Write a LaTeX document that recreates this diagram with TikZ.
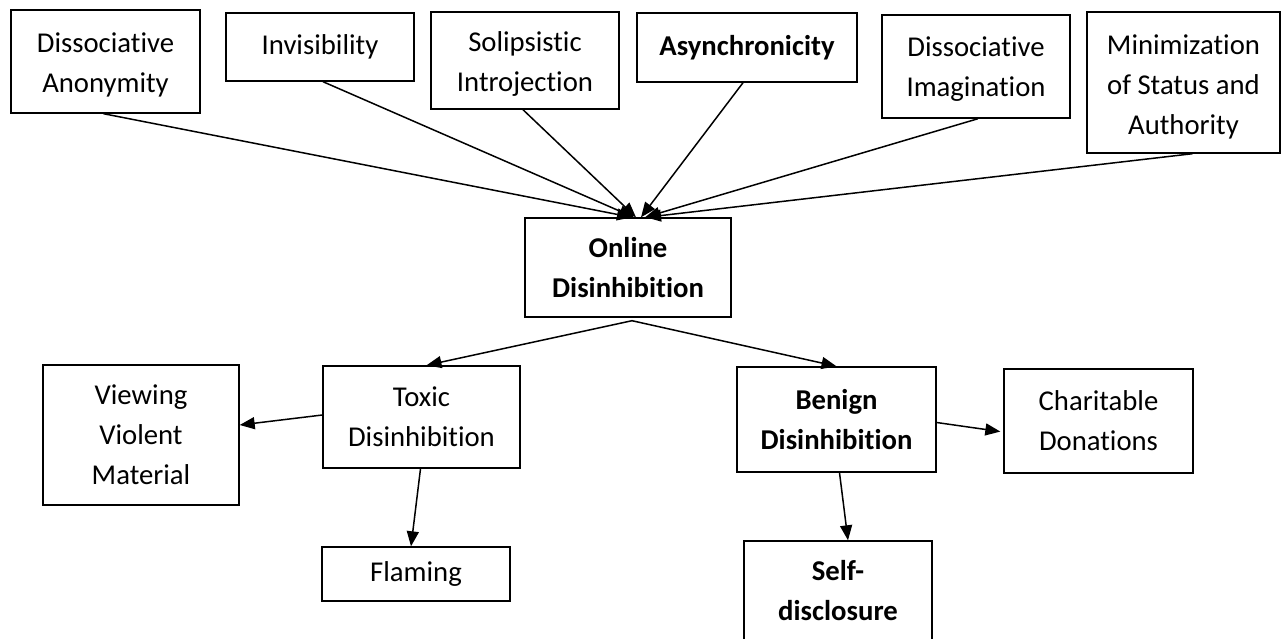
\documentclass[tikz,border=0pt]{standalone}
\usepackage{fontspec}
\setmainfont{Carlito}[Ligatures=NoCommon]
\usetikzlibrary{arrows.meta}
\begin{document}
\begin{tikzpicture}[x=1pt,y=-1pt,
  box/.style={draw=black, line width=1.4pt, fill=white, align=center, inner sep=0pt,
    font=\fontsize{28.7}{40}\selectfont},
  bbox/.style={box, font=\fontsize{28.7}{40}\selectfont\bfseries},
  arr/.style={line width=1.5pt, -{Triangle[length=15pt,width=12pt]}}]
\useasboundingbox (0,0) rectangle (1282,638);
\fill[white] (0,0) rectangle (1282,638);
% top row
\node[box, minimum width=189pt, minimum height=103pt] (anon) at (105.5,61.5) {\rule{0pt}{27pt}Dissociative\\Anonymity};
\node[box, minimum width=188pt, minimum height=68pt] (invis) at (320,47) {Invisibility};
\node[box, minimum width=188pt, minimum height=97pt] (solip) at (525,60.5) {\rule{0pt}{27pt}Solipsistic\\Introjection};
\node[bbox, minimum width=220pt, minimum height=69pt] (async) at (747,47.5) {Asynchronicity};
\node[box, minimum width=188pt, minimum height=103pt] (imag) at (976,66.5) {\rule{0pt}{24pt}Dissociative\\Imagination};
\node[box, minimum width=193pt, minimum height=141pt] (minim) at (1183.5,82.5) {\rule{0pt}{28pt}Minimization\\of Status and\\Authority};
% centre
\node[bbox, minimum width=206pt, minimum height=99pt] (online) at (628,267.5) {Online\\Disinhibition};
% lower
\node[box, minimum width=197pt, minimum height=102pt] (toxic) at (421.5,417) {Toxic\\Disinhibition};
\node[box, minimum width=196pt, minimum height=140pt] (view) at (141,435) {Viewing\\Violent\\Material};
\node[box, minimum width=188pt, minimum height=54pt] (flame) at (416,574) {Flaming};
\node[bbox, minimum width=199pt, minimum height=105pt] (benign) at (836.5,419.5) {Benign\\Disinhibition};
\node[box, minimum width=189pt, minimum height=104pt] (charit) at (1098.5,421) {Charitable\\Donations};
\node[bbox, minimum width=188pt, minimum height=100pt] (self) at (838,591) {Self-\\disclosure};
% arrows into Online Disinhibition
\draw[arr] ([xshift=-2pt]anon.south) -- ([xshift=4pt]online.north);
\draw[arr] ([xshift=3pt]invis.south) -- ([xshift=6pt]online.north);
\draw[arr] ([xshift=-2pt]solip.south) -- ([xshift=8pt]online.north);
\draw[arr] ([xshift=-4pt]async.south) -- ([xshift=13pt]online.north);
\draw[arr] ([xshift=2pt]imag.south) -- ([xshift=17pt]online.north);
\draw[arr] ([xshift=9pt]minim.south) -- ([xshift=18pt]online.north);
% arrows out of Online Disinhibition
\coordinate (apex) at ([xshift=4pt,yshift=-3pt]online.south);
\draw[arr] (apex) -- ([xshift=5pt]toxic.north);
\draw[arr] (apex) -- (benign.north);
% toxic branch
\draw[arr] ([yshift=2pt]toxic.west) -- ([yshift=10pt]view.east);
\draw[arr] ([xshift=-1pt]toxic.south) -- ([xshift=-5pt]flame.north);
% benign branch
\draw[arr, shorten >=3pt] ([yshift=-3pt]benign.east) -- ([yshift=-11pt]charit.west);
\draw[arr] ([xshift=3pt]benign.south) -- ([xshift=10pt]self.north);
\end{tikzpicture}
\end{document}
